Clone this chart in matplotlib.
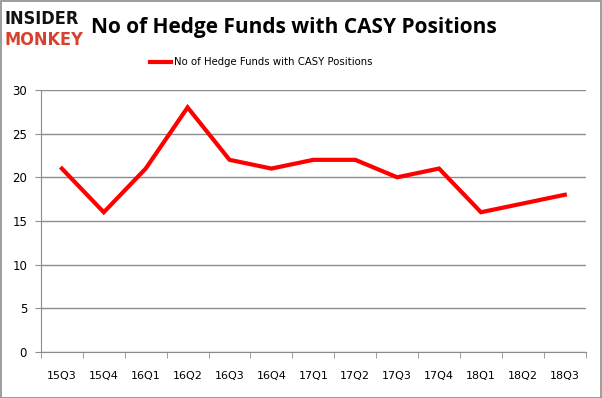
import matplotlib.pyplot as plt
import numpy as np

quarters = ["15Q3", "15Q4", "16Q1", "16Q2", "16Q3", "16Q4", "17Q1",
            "17Q2", "17Q3", "17Q4", "18Q1", "18Q2", "18Q3"]
funds = [21, 16, 21, 28, 22, 21, 22, 22, 20, 21, 16, 17, 18]
y_ticks = [0, 5, 10, 15, 20, 25, 30]

fig = plt.figure(figsize=(6.02, 3.98), dpi=100)
fig.patch.set_facecolor("white")
fig.patches.append(plt.Rectangle((0.001, 0.001), 0.997, 0.996, transform=fig.transFigure,
                                 fill=False, edgecolor="#8c8c8c", linewidth=1.2))

ax = fig.add_axes([0.068, 0.1156, 0.905, 0.6584])
x = np.arange(len(quarters))
ax.plot(x, funds, color="#ff0000", linewidth=3, solid_joinstyle="miter",
        label="No of Hedge Funds with CASY Positions")

ax.set_xlim(-0.5, len(quarters) - 0.5)
ax.set_ylim(0, 30)
ax.set_yticks(y_ticks)
ax.grid(axis="y", color="#8c8c8c", linewidth=1)
ax.set_axisbelow(True)
ax.set_xticks(x)
ax.set_xticklabels(quarters, fontsize=8)
ax.set_xticks(np.arange(-0.5, len(quarters)), minor=True)
ax.tick_params(axis="x", which="major", length=0, pad=14)
ax.tick_params(axis="x", which="minor", length=4, color="#8c8c8c")
ax.tick_params(axis="y", length=4, color="#8c8c8c", labelsize=8.5, pad=6)
for s in ["top", "right"]:
    ax.spines[s].set_visible(False)
for s in ["left", "bottom"]:
    ax.spines[s].set_color("#8c8c8c")

fig.text(0.488, 0.932, "No of Hedge Funds with CASY Positions", ha="center", va="center",
         fontsize=15, fontweight="bold", family="Open Sans")
fig.legend(loc="center", bbox_to_anchor=(0.434, 0.843), frameon=False, fontsize=7.3,
           handlelength=2.1, handletextpad=0.3)

fig.text(0.008, 0.952, "INSIDER", ha="left", va="center", fontsize=13,
         fontweight="heavy", fontstretch="condensed", color="#111111", family="DejaVu Sans")
fig.text(0.008, 0.9, "MONKEY", ha="left", va="center", fontsize=13,
         fontweight="heavy", fontstretch="condensed", color="#d9412f", family="DejaVu Sans")

fig.savefig("out.png", dpi=100)
